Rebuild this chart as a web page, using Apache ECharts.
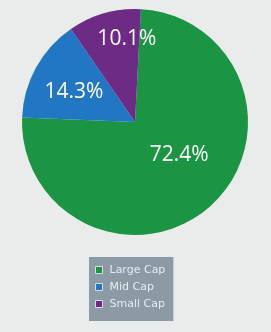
<!DOCTYPE html>
<html>
<head>
<meta charset="utf-8">
<script src="https://cdn.jsdelivr.net/npm/echarts@6/dist/echarts.min.js"></script>
<style>
  html, body { margin: 0; padding: 0; background: #eaebeb; }
  #chart { width: 271px; height: 332px; }
</style>
</head>
<body>
<div id="chart"></div>
<script>
// holdings split by market cap (percent of portfolio)
var categories = ['Large Cap', 'Mid Cap', 'Small Cap'];
var shares = [72.4, 14.3, 10.1];
var colors = ['#1b9444', '#2177c4', '#6d2b86'];

// nudges for the in-slice labels, the original places them unevenly
var labelNudge = [[4, -11], [-9, -1], [8, -26]];

var pieData = [];
for (var i = 0; i < categories.length; i++) {
  pieData.push({ name: categories[i], value: shares[i], itemStyle: { color: colors[i] } });
}

var chart = echarts.init(document.getElementById('chart'));
var option = {
  animation: false,
  backgroundColor: '#eaebeb',
  legend: {
    orient: 'vertical',
    left: 89,
    top: 257,
    backgroundColor: '#8c9aa6',
    padding: [6, 8, 10, 6],
    itemGap: 3,
    itemWidth: 7,
    itemHeight: 7,
    icon: 'rect',
    itemStyle: { borderColor: '#d8dde2', borderWidth: 1 },
    textStyle: {
      color: '#e6ecf0',
      fontFamily: 'DejaVu Sans',
      fontSize: 11,
      lineHeight: 14,
      padding: [0, 0, 0, 2]
    },
    data: categories
  },
  series: [{
    type: 'pie',
    center: [135, 122],
    radius: 113,
    startAngle: 87,
    clockwise: true,
    silent: true,
    label: {
      show: true,
      position: 'inside',
      formatter: '{c}%',
      color: '#ffffff',
      fontFamily: 'Open Sans',
      fontSize: 21
    },
    labelLine: { show: false },
    labelLayout: function (params) {
      var n = labelNudge[params.dataIndex];
      return { dx: n[0], dy: n[1] };
    },
    data: pieData
  }]
};
chart.setOption(option);
</script>
</body>
</html>
